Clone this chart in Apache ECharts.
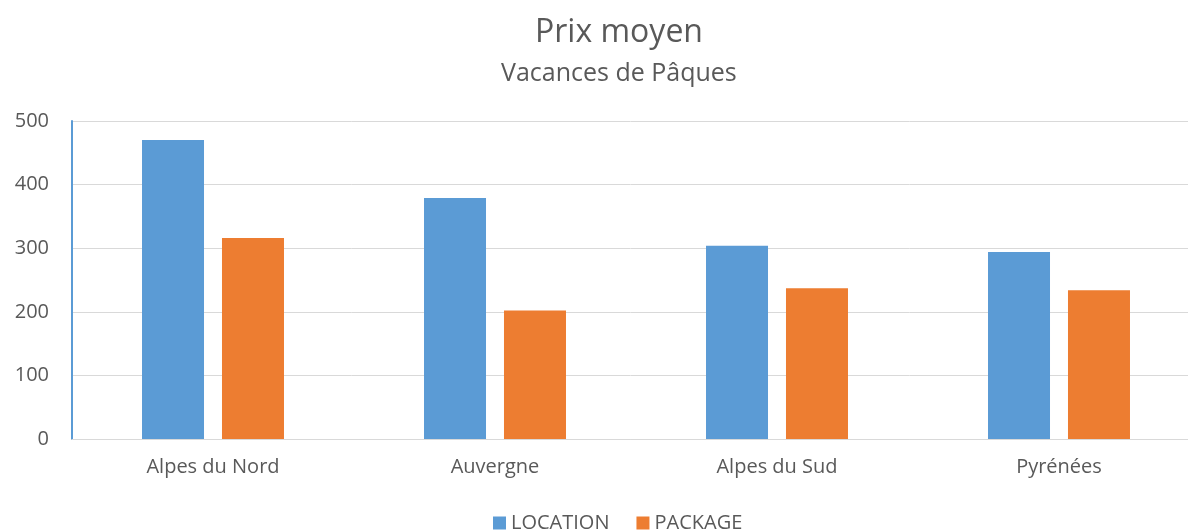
<!DOCTYPE html>
<html>
<head>
<meta charset="utf-8">
<script src="https://cdn.jsdelivr.net/npm/echarts@6/dist/echarts.min.js"></script>
<style>
    html, body { margin: 0; padding: 0; background: #fff; }
    #main { width: 1188px; height: 531px; }
</style>
</head>
<body>
<div id="main"></div>
<script>
// 数据
var regions = ['Alpes du Nord', 'Auvergne', 'Alpes du Sud', 'Pyrénées'];
var location_vals = [470, 379, 304, 294];
var package_vals = [316, 202, 237, 234];
var yTicks = [0, 100, 200, 300, 400, 500];

var font = '"Open Sans", "Noto Sans", sans-serif';

var myChart = echarts.init(document.getElementById('main'));

var option = {
    animation: false,
    textStyle: { fontFamily: font },
    // 标题 (与原图一样偏右居中)
    title: [
        {
            text: 'Prix moyen',
            left: 530, top: 12,
            textStyle: { fontFamily: font, fontSize: 32, fontWeight: 'normal', color: '#595959' }
        },
        {
            text: 'Vacances de Pâques',
            left: 496, top: 56,
            textStyle: { fontFamily: font, fontSize: 25, fontWeight: 'normal', color: '#595959' }
        }
    ],
    legend: {
        top: 508,
        left: 488,
        itemWidth: 13,
        itemHeight: 13,
        itemGap: 27,
        icon: 'rect',
        textStyle: { fontFamily: font, fontSize: 20, color: '#595959' },
        data: ['LOCATION', 'PACKAGE']
    },
    grid: { left: 72, right: -12, top: 121, bottom: 92, outerBoundsMode: 'none' },
    xAxis: {
        type: 'category',
        data: regions,
        axisTick: { show: false },
        axisLine: { lineStyle: { color: '#d9d9d9', width: 1 } },
        axisLabel: { fontFamily: font, fontSize: 20, color: '#595959', margin: 18 }
    },
    yAxis: {
        type: 'value',
        min: yTicks[0],
        max: yTicks[yTicks.length - 1],
        interval: 100,
        axisLine: { show: true, lineStyle: { color: '#5b9bd5', width: 2 } },
        axisTick: { show: false },
        splitLine: { lineStyle: { color: '#d9d9d9', width: 1 } },
        axisLabel: { fontFamily: font, fontSize: 20, color: '#595959', margin: 23 }
    },
    series: [
        {
            name: 'LOCATION',
            type: 'bar',
            barWidth: 62,
            barGap: '29%',
            itemStyle: { color: '#5b9bd5' },
            data: location_vals
        },
        {
            name: 'PACKAGE',
            type: 'bar',
            barWidth: 62,
            itemStyle: { color: '#ed7d31' },
            data: package_vals
        }
    ]
};

myChart.setOption(option);
</script>
</body>
</html>
